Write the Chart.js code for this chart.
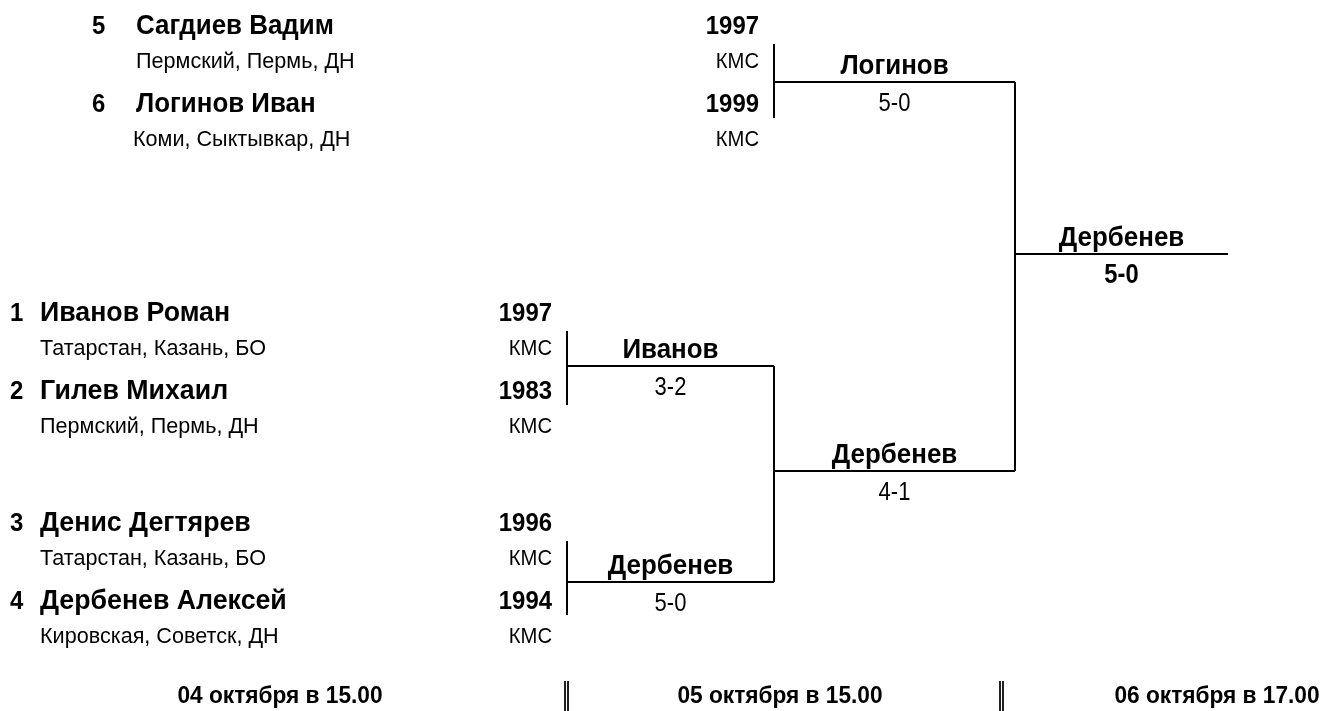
<!DOCTYPE html>
<html>
<head>
<meta charset="utf-8">
<script src="https://cdn.jsdelivr.net/npm/chart.js@4/dist/chart.umd.min.js"></script>
<style>
  html, body { margin: 0; padding: 0; background: #fff; }
  #wrap { width: 1322px; height: 711px; }
</style>
</head>
<body>
<div id="wrap"><canvas id="bracket" width="1322" height="711"></canvas></div>
<script>
// participants, in the order they appear top to bottom
const seeds = ['5', '6', '1', '2', '3', '4'];
const names = ['Сагдиев Вадим', 'Логинов Иван', 'Иванов Роман', 'Гилев Михаил', 'Денис Дегтярев', 'Дербенев Алексей'];
const regions = ['Пермский, Пермь, ДН', 'Коми, Сыктывкар, ДН', 'Татарстан, Казань, БО', 'Пермский, Пермь, ДН', 'Татарстан, Казань, БО', 'Кировская, Советск, ДН'];
const years = ['1997', '1999', '1997', '1983', '1996', '1994'];
const ranks = ['КМС', 'КМС', 'КМС', 'КМС', 'КМС', 'КМС'];

// matches: winner and score
const matchWinners = ['Логинов', 'Иванов', 'Дербенев', 'Дербенев', 'Дербенев'];
const matchScores = ['5-0', '3-2', '5-0', '4-1', '5-0'];
const dates = ['04 октября в 15.00', '05 октября в 15.00', '06 октября в 17.00'];

const FONT = '"Liberation Sans", Arial, sans-serif';

// layout (pixel units of the x/y scales)
const colX = [567, 774, 1015, 1228];
const rowY = [25, 103, 312, 390, 522, 600];       // name line centres
const pairLeft = [1, 0, 0];                        // column index of each first-round pair
const matchLine = [
  { a: 1, b: 2, y: 82, bold: false },
  { a: 0, b: 1, y: 366, bold: false },
  { a: 0, b: 1, y: 582, bold: false },
  { a: 1, b: 2, y: 471, bold: false },
  { a: 2, b: 3, y: 254, bold: true }
];

function seg(x1, y1, x2, y2, w) {
  return {
    data: [{ x: x1, y: y1 }, { x: x2, y: y2 }],
    showLine: true, borderColor: '#000', borderWidth: w || 2,
    pointRadius: 0, fill: false
  };
}

const datasets = [];
// first-round pair brackets
for (let p = 0; p < 3; p++) {
  const x = colX[pairLeft[p]];
  const y1 = rowY[p * 2], y2 = rowY[p * 2 + 1];
  datasets.push(seg(x, y1 + 19, x, y2 + 15));
}
// horizontal match lines
matchLine.forEach(m => datasets.push(seg(colX[m.a], m.y, colX[m.b], m.y)));
// verticals joining matches
datasets.push(seg(colX[1], 366, colX[1], 582));
datasets.push(seg(colX[2], 82, colX[2], 471));
// double separators between the date columns
[565, 1000].forEach(x => {
  datasets.push(seg(x, 681, x, 711, 1));
  datasets.push(seg(x + 3, 681, x + 3, 711, 1));
});

const textPlugin = {
  id: 'bracketText',
  afterDatasetsDraw(chart) {
    const ctx = chart.ctx, sx = chart.scales.x, sy = chart.scales.y;
    // narrow: horizontal squeeze, the source uses a condensed face
    const put = (t, x, y, font, align, narrow) => {
      const k = narrow || 1;
      ctx.save();
      ctx.translate(sx.getPixelForValue(x), sy.getPixelForValue(y));
      ctx.scale(k, 1);
      ctx.font = font;
      ctx.textAlign = align || 'left';
      ctx.textBaseline = 'alphabetic';
      ctx.fillStyle = '#000';
      ctx.fillText(t, 0, 0);
      ctx.restore();
    };
    for (let i = 0; i < seeds.length; i++) {
      const top = i < 2;
      const seedX = top ? 92 : 10;
      const nameX = top ? 136 : 40;
      const yearX = top ? 759 : 552;
      const y = rowY[i];
      put(seeds[i], seedX, y + 9, 'bold 26px ' + FONT, 'left', 0.92);
      put(names[i], nameX, y + 9, 'bold 27px ' + FONT, 'left', top ? 0.96 : 0.99);
      put(regions[i], top && i === 1 ? 133 : nameX, y + 43, '22.5px ' + FONT, 'left', 0.96);
      put(years[i], yearX, y + 9, 'bold 26px ' + FONT, 'right', 0.92);
      put(ranks[i], yearX, y + 43, '22px ' + FONT, 'right', 0.92);
    }
    matchLine.forEach((m, k) => {
      const cx = (colX[m.a] + colX[m.b]) / 2;
      put(matchWinners[k], cx, m.y - 8, 'bold 27px ' + FONT, 'center', 0.96);
      put(matchScores[k], cx, m.y + 29, m.bold ? 'bold 27px ' + FONT : '25px ' + FONT, 'center', 0.88);
    });
    const dateX = [280, 780, 1217];
    dates.forEach((d, k) => put(d, dateX[k], 703, 'bold 24px ' + FONT, 'center', 0.945));
  }
};

new Chart(document.getElementById('bracket'), {
  type: 'scatter',
  data: { datasets: datasets },
  options: {
    responsive: false,
    animation: false,
    layout: { padding: 0 },
    plugins: { legend: { display: false }, tooltip: { enabled: false } },
    scales: {
      x: { type: 'linear', min: 0, max: 1322, display: false },
      y: { type: 'linear', min: 0, max: 711, reverse: true, display: false }
    }
  },
  plugins: [textPlugin]
});
</script>
</body>
</html>
